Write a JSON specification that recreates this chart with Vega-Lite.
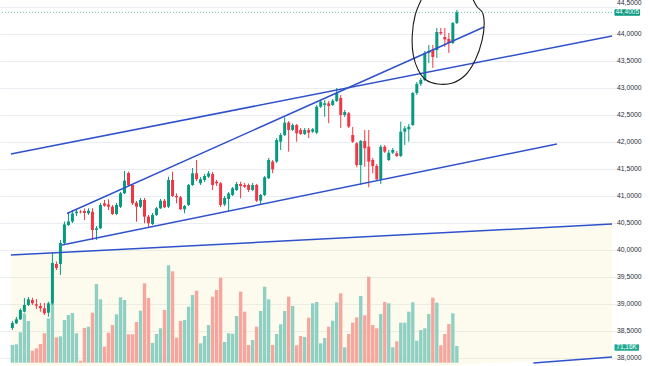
{
  "$schema": "https://vega.github.io/schema/vega-lite/v6.json",
  "width": 618,
  "height": 366,
  "autosize": {"type": "none"},
  "padding": {"left": 0, "top": 0, "right": 36, "bottom": 0},
  "background": "white",
  "config": {"view": {"stroke": null}, "font": "Liberation Sans"},
  "datasets": {
    "k": [
      {"i":1,"o":38.556,"h":38.686,"l":38.519,"c":38.649,"v":75.4},
      {"i":2,"o":38.643,"h":38.760,"l":38.630,"c":38.717,"v":78.3},
      {"i":3,"o":38.717,"h":38.921,"l":38.704,"c":38.889,"v":129.4},
      {"i":4,"o":38.858,"h":39.111,"l":38.843,"c":38.982,"v":210.3},
      {"i":5,"o":38.982,"h":39.130,"l":38.963,"c":39.087,"v":177.6},
      {"i":6,"o":39.074,"h":39.117,"l":38.982,"c":39.013,"v":51.1},
      {"i":7,"o":38.995,"h":39.093,"l":38.908,"c":38.969,"v":61.3},
      {"i":8,"o":38.963,"h":39.019,"l":38.858,"c":38.921,"v":79.7},
      {"i":9,"o":38.921,"h":39.019,"l":38.797,"c":38.828,"v":125.2},
      {"i":10,"o":38.839,"h":39.043,"l":38.765,"c":39.013,"v":189.1},
      {"i":11,"o":39.010,"h":39.963,"l":38.982,"c":39.760,"v":253.0},
      {"i":12,"o":39.741,"h":39.787,"l":39.630,"c":39.667,"v":108.2},
      {"i":13,"o":39.741,"h":40.186,"l":39.537,"c":40.130,"v":112.4},
      {"i":14,"o":40.130,"h":40.528,"l":40.111,"c":40.473,"v":181.9},
      {"i":15,"o":40.463,"h":40.704,"l":40.445,"c":40.528,"v":203.2},
      {"i":16,"o":40.528,"h":40.741,"l":40.500,"c":40.676,"v":211.7},
      {"i":17,"o":40.680,"h":40.741,"l":40.630,"c":40.710,"v":125.2},
      {"i":18,"o":40.710,"h":40.741,"l":40.676,"c":40.699,"v":8.5},
      {"i":19,"o":40.723,"h":40.769,"l":40.556,"c":40.686,"v":147.8},
      {"i":20,"o":40.680,"h":40.773,"l":40.649,"c":40.728,"v":153.4},
      {"i":21,"o":40.710,"h":40.773,"l":40.186,"c":40.371,"v":213.0},
      {"i":22,"o":40.371,"h":40.445,"l":40.186,"c":40.402,"v":335.3},
      {"i":23,"o":40.402,"h":40.871,"l":40.389,"c":40.834,"v":270.1},
      {"i":24,"o":40.865,"h":40.926,"l":40.802,"c":40.821,"v":68.2},
      {"i":25,"o":40.843,"h":40.939,"l":40.741,"c":40.802,"v":127.8},
      {"i":26,"o":40.802,"h":40.834,"l":40.649,"c":40.667,"v":160.6},
      {"i":27,"o":40.667,"h":40.871,"l":40.649,"c":40.834,"v":206.2},
      {"i":28,"o":40.802,"h":41.074,"l":40.778,"c":41.050,"v":278.6},
      {"i":29,"o":41.050,"h":41.463,"l":41.037,"c":41.284,"v":267.1},
      {"i":30,"o":41.426,"h":41.450,"l":41.186,"c":41.204,"v":121.0},
      {"i":31,"o":41.204,"h":41.223,"l":40.834,"c":40.865,"v":121.0},
      {"i":32,"o":40.876,"h":40.908,"l":40.524,"c":40.802,"v":173.4},
      {"i":33,"o":40.802,"h":40.963,"l":40.778,"c":40.926,"v":221.5},
      {"i":34,"o":40.926,"h":40.963,"l":40.495,"c":40.617,"v":338.2},
      {"i":35,"o":40.617,"h":40.649,"l":40.432,"c":40.495,"v":275.6},
      {"i":36,"o":40.482,"h":40.686,"l":40.463,"c":40.649,"v":83.9},
      {"i":37,"o":40.649,"h":40.797,"l":40.630,"c":40.773,"v":122.3},
      {"i":38,"o":40.773,"h":40.945,"l":40.760,"c":40.913,"v":146.5},
      {"i":39,"o":40.913,"h":40.945,"l":40.778,"c":40.791,"v":224.5},
      {"i":40,"o":40.802,"h":41.358,"l":40.778,"c":41.297,"v":414.9},
      {"i":41,"o":41.297,"h":41.450,"l":40.982,"c":41.000,"v":389.4},
      {"i":42,"o":41.000,"h":41.050,"l":40.865,"c":40.976,"v":106.5},
      {"i":43,"o":40.976,"h":41.000,"l":40.741,"c":40.754,"v":177.6},
      {"i":44,"o":40.754,"h":40.834,"l":40.680,"c":40.815,"v":181.9},
      {"i":45,"o":40.834,"h":41.223,"l":40.815,"c":41.204,"v":238.6},
      {"i":46,"o":41.204,"h":41.519,"l":41.186,"c":41.421,"v":288.4},
      {"i":47,"o":41.421,"h":41.667,"l":41.278,"c":41.310,"v":306.7},
      {"i":48,"o":41.236,"h":41.352,"l":41.204,"c":41.310,"v":82.6},
      {"i":49,"o":41.297,"h":41.408,"l":41.260,"c":41.371,"v":113.7},
      {"i":50,"o":41.358,"h":41.463,"l":41.334,"c":41.421,"v":160.6},
      {"i":51,"o":41.408,"h":41.445,"l":41.111,"c":41.204,"v":281.2},
      {"i":52,"o":41.265,"h":41.297,"l":41.186,"c":41.236,"v":309.7},
      {"i":53,"o":41.236,"h":41.260,"l":40.797,"c":40.834,"v":362.1},
      {"i":54,"o":40.843,"h":41.000,"l":40.815,"c":40.963,"v":88.2},
      {"i":55,"o":40.945,"h":41.074,"l":40.723,"c":41.047,"v":125.2},
      {"i":56,"o":41.019,"h":41.167,"l":41.000,"c":41.143,"v":123.5},
      {"i":57,"o":41.111,"h":41.260,"l":41.093,"c":41.223,"v":198.9},
      {"i":58,"o":41.223,"h":41.265,"l":40.958,"c":41.186,"v":302.5},
      {"i":59,"o":41.204,"h":41.241,"l":41.149,"c":41.173,"v":217.3},
      {"i":60,"o":41.204,"h":41.232,"l":41.074,"c":41.111,"v":75.4},
      {"i":61,"o":41.111,"h":41.241,"l":41.093,"c":41.204,"v":96.7},
      {"i":62,"o":41.204,"h":41.223,"l":40.889,"c":40.913,"v":153.4},
      {"i":63,"o":40.913,"h":41.037,"l":40.834,"c":41.019,"v":220.2},
      {"i":64,"o":41.019,"h":41.371,"l":41.000,"c":41.347,"v":323.8},
      {"i":65,"o":41.328,"h":41.704,"l":41.315,"c":41.667,"v":270.1},
      {"i":66,"o":41.636,"h":41.667,"l":41.421,"c":41.495,"v":75.4},
      {"i":67,"o":41.636,"h":42.074,"l":41.611,"c":42.037,"v":122.3},
      {"i":68,"o":42.006,"h":42.167,"l":41.852,"c":42.130,"v":163.6},
      {"i":69,"o":42.130,"h":42.458,"l":42.111,"c":42.358,"v":220.2},
      {"i":70,"o":42.358,"h":42.389,"l":41.821,"c":42.223,"v":281.2},
      {"i":71,"o":42.223,"h":42.343,"l":42.204,"c":42.315,"v":241.5},
      {"i":72,"o":42.315,"h":42.334,"l":42.006,"c":42.161,"v":74.1},
      {"i":73,"o":42.223,"h":42.260,"l":42.130,"c":42.149,"v":113.7},
      {"i":74,"o":42.149,"h":42.260,"l":42.130,"c":42.223,"v":109.5},
      {"i":75,"o":42.223,"h":42.260,"l":42.074,"c":42.173,"v":191.7},
      {"i":76,"o":42.191,"h":42.260,"l":42.167,"c":42.236,"v":253.0},
      {"i":77,"o":42.173,"h":42.686,"l":42.149,"c":42.654,"v":258.6},
      {"i":78,"o":42.654,"h":42.778,"l":42.630,"c":42.747,"v":82.6},
      {"i":79,"o":42.686,"h":42.778,"l":42.469,"c":42.717,"v":105.2},
      {"i":80,"o":42.717,"h":42.760,"l":42.347,"c":42.667,"v":153.4},
      {"i":81,"o":42.686,"h":42.797,"l":42.667,"c":42.765,"v":178.9},
      {"i":82,"o":42.760,"h":43.000,"l":42.741,"c":42.908,"v":257.3},
      {"i":83,"o":42.815,"h":42.871,"l":42.260,"c":42.500,"v":295.6},
      {"i":84,"o":42.500,"h":42.593,"l":42.463,"c":42.556,"v":65.6},
      {"i":85,"o":42.532,"h":42.556,"l":42.260,"c":42.284,"v":122.3},
      {"i":86,"o":42.130,"h":42.278,"l":41.982,"c":42.006,"v":170.4},
      {"i":87,"o":41.976,"h":42.000,"l":41.532,"c":41.574,"v":193.4},
      {"i":88,"o":41.574,"h":42.037,"l":41.204,"c":42.019,"v":284.1},
      {"i":89,"o":42.019,"h":42.223,"l":41.543,"c":41.884,"v":201.9},
      {"i":90,"o":41.913,"h":42.223,"l":41.161,"c":41.636,"v":366.4},
      {"i":91,"o":41.667,"h":41.704,"l":41.421,"c":41.556,"v":160.6},
      {"i":92,"o":41.556,"h":41.593,"l":41.297,"c":41.310,"v":146.5},
      {"i":93,"o":41.310,"h":41.945,"l":41.223,"c":41.913,"v":207.5},
      {"i":94,"o":41.913,"h":41.945,"l":41.797,"c":41.821,"v":258.6},
      {"i":95,"o":41.667,"h":41.852,"l":41.649,"c":41.802,"v":253.0},
      {"i":96,"o":41.802,"h":41.889,"l":41.778,"c":41.852,"v":65.6},
      {"i":97,"o":41.791,"h":41.834,"l":41.723,"c":41.741,"v":91.2},
      {"i":98,"o":41.741,"h":42.376,"l":41.723,"c":42.191,"v":170.4},
      {"i":99,"o":42.191,"h":42.297,"l":41.945,"c":42.254,"v":170.4},
      {"i":100,"o":42.236,"h":42.334,"l":42.006,"c":42.284,"v":217.3},
      {"i":101,"o":42.315,"h":42.926,"l":42.297,"c":42.908,"v":257.3},
      {"i":102,"o":42.908,"h":43.111,"l":42.871,"c":43.074,"v":93.7},
      {"i":103,"o":43.074,"h":43.186,"l":43.037,"c":43.149,"v":139.3},
      {"i":104,"o":43.149,"h":43.686,"l":43.130,"c":43.649,"v":146.5},
      {"i":105,"o":43.649,"h":43.797,"l":43.463,"c":43.686,"v":207.5},
      {"i":106,"o":43.704,"h":43.797,"l":43.371,"c":43.574,"v":276.9},
      {"i":107,"o":43.704,"h":44.111,"l":43.556,"c":44.037,"v":255.6},
      {"i":108,"o":44.037,"h":44.111,"l":43.982,"c":44.010,"v":74.1},
      {"i":109,"o":43.945,"h":44.111,"l":43.760,"c":43.899,"v":122.3},
      {"i":110,"o":43.908,"h":44.019,"l":43.649,"c":43.834,"v":164.9},
      {"i":111,"o":43.834,"h":44.223,"l":43.815,"c":44.204,"v":210.4},
      {"i":112,"o":44.204,"h":44.445,"l":44.186,"c":44.4005,"v":71.16}
    ],
    "lines": [
      {"id":"a","i":0.631,"p":41.778},{"id":"a","i":150.75,"p":43.963},
      {"id":"b","i":14.64,"p":40.676},{"id":"b","i":118.81,"p":44.130},
      {"id":"c","i":13.41,"p":40.093},{"id":"c","i":136.99,"p":41.963},
      {"id":"d","i":0.631,"p":39.907},{"id":"d","i":150.75,"p":40.481},
      {"id":"e","i":131.1,"p":37.907},{"id":"e","i":150.75,"p":38.019}
    ],
    "chan": [
      {"i":0.631,"top":39.907,"bot":37.444},
      {"i":150.75,"top":40.481,"bot":38.019}
    ],
    "ellipse": [
      {"k":1,"i":103.09,"p":44.63},
      {"k":2,"i":101.6,"p":44.352},
      {"k":3,"i":100.87,"p":43.981},
      {"k":4,"i":101.12,"p":43.611},
      {"k":5,"i":102.35,"p":43.333},
      {"k":6,"i":104.32,"p":43.148},
      {"k":7,"i":107.27,"p":43.074},
      {"k":8,"i":110.96,"p":43.093},
      {"k":9,"i":114.15,"p":43.241},
      {"k":10,"i":116.61,"p":43.519},
      {"k":11,"i":118.33,"p":43.889},
      {"k":12,"i":118.82,"p":44.222},
      {"k":13,"i":118.33,"p":44.407},
      {"k":14,"i":117.1,"p":44.5},
      {"k":15,"i":116.1,"p":44.63}
    ],
    "ticks": [
      {"p":38.0,"t":"38,0000"},{"p":38.5,"t":"38,5000"},{"p":39.0,"t":"39,0000"},{"p":39.5,"t":"39,5000"},
      {"p":40.0,"t":"40,0000"},{"p":40.5,"t":"40,5000"},{"p":41.0,"t":"41,0000"},{"p":41.5,"t":"41,5000"},
      {"p":42.0,"t":"42,0000"},{"p":42.5,"t":"42,5000"},{"p":43.0,"t":"43,0000"},{"p":43.5,"t":"43,5000"},
      {"p":44.0,"t":"44,0000"}
    ],
    "toptick": [{"p":44.5,"t":"44,5000"}],
    "plabel": [{"label":"44,4005","p":44.4005,"top":44.46,"bot":44.34,"x1":151.37,"x2":157.76,"xm":154.56}],
    "vlabel": [{"label":"71,16K","v":64.8,"top":78.4,"bot":51.2,"x1":151.37,"x2":157.5,"xm":154.4}]
  },
  "layer": [
    {
      "data": {"name": "chan"},
      "mark": {"type": "area", "color": "#f7ecb0", "opacity": 0.22, "clip": true},
      "encoding": {
        "x": {"field": "i", "type": "quantitative",
          "scale": {"domain": [-0.843, 151.0], "nice": false, "zero": false},
          "axis": {"values": [12.43, 24.51, 36.6, 48.69, 60.78, 72.87, 84.96, 97.05, 109.14, 121.22, 133.31, 145.4], "grid": true, "gridColor": "#e9ecf1", "labels": false, "ticks": false, "domain": false, "title": null}},
        "y": {"field": "top", "type": "quantitative",
          "scale": {"domain": [37.852, 44.6296], "nice": false, "zero": false},
          "axis": {"orient": "right", "values": [38, 38.5, 39, 39.5, 40, 40.5, 41, 41.5, 42, 42.5, 43, 43.5, 44, 44.5], "grid": true, "gridColor": "#e9ecf1", "ticks": false, "domain": false, "title": null, "labels": false}},
        "y2": {"field": "bot"}
      }
    },
    {
      "data": {"name": "k"},
      "mark": {"type": "bar", "size": 3.4},
      "encoding": {
        "x": {"field": "i", "type": "quantitative", "axis": null},
        "y": {"field": "v", "type": "quantitative", "scale": {"domain": [-14.06, 1545.1], "nice": false, "zero": false}, "axis": null},
        "y2": {"datum": 0},
        "color": {"condition": {"test": "datum.c >= datum.o", "value": "#8fd0c3"}, "value": "#f6a69c"}
      }
    },
    {
      "data": {"name": "k"},
      "mark": {"type": "rule", "strokeWidth": 1},
      "encoding": {
        "x": {"field": "i", "type": "quantitative", "axis": null},
        "y": {"field": "l", "type": "quantitative", "scale": {"domain": [37.852, 44.6296], "nice": false, "zero": false}, "axis": null},
        "y2": {"field": "h"},
        "color": {"condition": {"test": "datum.c >= datum.o", "value": "#089981"}, "value": "#f23645"}
      }
    },
    {
      "data": {"name": "k"},
      "mark": {"type": "bar", "size": 3},
      "encoding": {
        "x": {"field": "i", "type": "quantitative", "axis": null},
        "y": {"field": "o", "type": "quantitative", "scale": {"domain": [37.852, 44.6296], "nice": false, "zero": false}, "axis": null},
        "y2": {"field": "c"},
        "color": {"condition": {"test": "datum.c >= datum.o", "value": "#089981"}, "value": "#f23645"}
      }
    },
    {
      "data": {"name": "lines"},
      "mark": {"type": "line", "color": "#2f52cc", "strokeWidth": 1.5, "clip": true},
      "encoding": {
        "x": {"field": "i", "type": "quantitative", "axis": null},
        "y": {"field": "p", "type": "quantitative", "scale": {"domain": [37.852, 44.6296], "nice": false, "zero": false}, "axis": null},
        "detail": {"field": "id"}
      }
    },
    {
      "data": {"name": "ellipse"},
      "mark": {"type": "line", "color": "#1a1a1a", "strokeWidth": 1.1, "interpolate": "catmull-rom", "clip": true},
      "encoding": {
        "x": {"field": "i", "type": "quantitative", "axis": null},
        "y": {"field": "p", "type": "quantitative", "scale": {"domain": [37.852, 44.6296], "nice": false, "zero": false}, "axis": null},
        "order": {"field": "k"}
      }
    },
    {
      "data": {"name": "plabel"},
      "mark": {"type": "rule", "color": "#089981", "opacity": 0.6, "strokeDash": [1, 2], "strokeWidth": 1},
      "encoding": {
        "y": {"field": "p", "type": "quantitative", "scale": {"domain": [37.852, 44.6296], "nice": false, "zero": false}, "axis": null}
      }
    },
    {
      "data": {"name": "ticks"},
      "mark": {"type": "text", "fontSize": 6.8, "color": "#2a2e39", "align": "left", "baseline": "middle", "clip": false, "font": "Liberation Sans"},
      "encoding": {
        "x": {"datum": 152.0, "type": "quantitative", "axis": null},
        "y": {"field": "p", "type": "quantitative", "scale": {"domain": [37.852, 44.6296], "nice": false, "zero": false}, "axis": null},
        "text": {"field": "t"}
      }
    },
    {
      "data": {"name": "toptick"},
      "mark": {"type": "text", "fontSize": 6.8, "color": "#2a2e39", "align": "left", "baseline": "middle", "dy": -3.5, "clip": false, "font": "Liberation Sans"},
      "encoding": {
        "x": {"datum": 152.0, "type": "quantitative", "axis": null},
        "y": {"field": "p", "type": "quantitative", "scale": {"domain": [37.852, 44.6296], "nice": false, "zero": false}, "axis": null},
        "text": {"field": "t"}
      }
    },
    {
      "data": {"name": "plabel"},
      "mark": {"type": "rect", "color": "#089981", "clip": false, "cornerRadius": 1},
      "encoding": {
        "x": {"field": "x1", "type": "quantitative", "axis": null},
        "x2": {"field": "x2"},
        "y": {"field": "top", "type": "quantitative", "scale": {"domain": [37.852, 44.6296], "nice": false, "zero": false}, "axis": null},
        "y2": {"field": "bot"}
      }
    },
    {
      "data": {"name": "plabel"},
      "mark": {"type": "text", "color": "white", "fontSize": 6.5, "align": "center", "baseline": "middle", "clip": false},
      "encoding": {
        "x": {"field": "xm", "type": "quantitative", "axis": null},
        "y": {"field": "p", "type": "quantitative", "scale": {"domain": [37.852, 44.6296], "nice": false, "zero": false}, "axis": null},
        "text": {"field": "label"}
      }
    },
    {
      "data": {"name": "vlabel"},
      "mark": {"type": "rect", "color": "#22ab94", "clip": false, "cornerRadius": 1},
      "encoding": {
        "x": {"field": "x1", "type": "quantitative", "axis": null},
        "x2": {"field": "x2"},
        "y": {"field": "top", "type": "quantitative", "scale": {"domain": [-14.06, 1545.1], "nice": false, "zero": false}, "axis": null},
        "y2": {"field": "bot"}
      }
    },
    {
      "data": {"name": "vlabel"},
      "mark": {"type": "text", "color": "white", "fontSize": 6.5, "align": "center", "baseline": "middle", "clip": false},
      "encoding": {
        "x": {"field": "xm", "type": "quantitative", "axis": null},
        "y": {"field": "v", "type": "quantitative", "scale": {"domain": [-14.06, 1545.1], "nice": false, "zero": false}, "axis": null},
        "text": {"field": "label"}
      }
    }
  ],
  "resolve": {"scale": {"y": "independent"}}
}
